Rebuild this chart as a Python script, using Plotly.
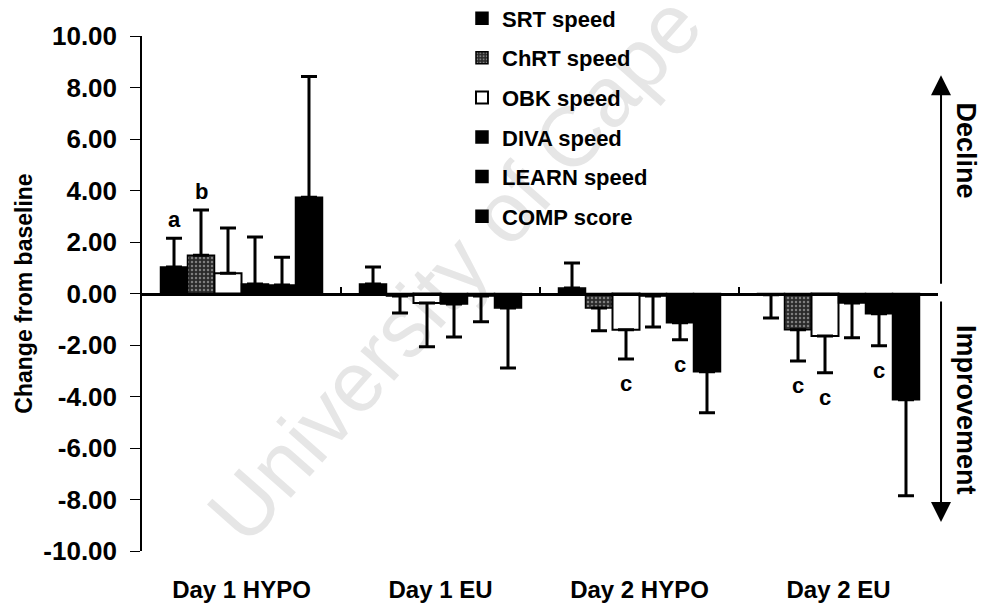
import plotly.graph_objects as go

# Groups along the x axis and the six measures shown in each group
categories = ["Day 1 HYPO", "Day 1 EU", "Day 2 HYPO", "Day 2 EU"]
series_names = ["SRT speed", "ChRT speed", "OBK speed", "DIVA speed", "LEARN speed", "COMP score"]

# Mean change from baseline per group, with the one-sided error (SD)
srt_mean = [1.03, 0.37, 0.21, -0.05]
srt_err = [1.12, 0.66, 0.97, 0.90]
chrt_mean = [1.49, -0.10, -0.56, -1.41]
chrt_err = [1.75, 0.66, 0.89, 1.21]
obk_mean = [0.79, -0.37, -1.41, -1.65]
obk_err = [1.75, 1.70, 1.13, 1.43]
diva_mean = [0.37, -0.41, -0.10, -0.37]
diva_err = [1.82, 1.28, 1.20, 1.35]
learn_mean = [0.33, -0.10, -1.14, -0.79]
learn_err = [1.08, 1.00, 0.66, 1.24]
comp_mean = [3.74, -0.56, -3.04, -4.13]
comp_err = [4.69, 2.33, 1.59, 3.72]

# Significance letters: (letter, group index, measure index)
sig_labels = [("a", 0, 0), ("b", 0, 1), ("c", 2, 2), ("c", 2, 4),
              ("c", 3, 1), ("c", 3, 2), ("c", 3, 4)]

y_ticks = [-10, -8, -6, -4, -2, 0, 2, 4, 6, 8, 10]
y_tick_labels = ["-10.00", "-8.00", "-6.00", "-4.00", "-2.00", "0.00",
                 "2.00", "4.00", "6.00", "8.00", "10.00"]

means = [srt_mean, chrt_mean, obk_mean, diva_mean, learn_mean, comp_mean]
errs = [srt_err, chrt_err, obk_err, diva_err, learn_err, comp_err]

FONT = "Liberation Sans, Arial, sans-serif"
BARGAP = 0.186
N = len(series_names)

styles = [
    dict(color="#000000"),
    dict(color="#2a2a2a", pattern=dict(shape=".", fgcolor="#d2d2d2", size=4, solidity=0.3)),
    dict(color="#ffffff"),
    dict(color="#000000"),
    dict(color="#000000"),
    dict(color="#000000"),
]

fig = go.Figure()
for i, name in enumerate(series_names):
    m = means[i]
    e = errs[i]
    up = [ev if mv >= 0 else 0 for mv, ev in zip(m, e)]
    down = [ev if mv < 0 else 0 for mv, ev in zip(m, e)]
    fig.add_trace(go.Bar(
        name=name,
        x=categories,
        y=m,
        legendgroup=name,
        marker=dict(line=dict(color="#000000", width=2 if i == 2 else 1.5), **styles[i]),
        error_y=dict(type="data", symmetric=False, array=up, arrayminus=down,
                     color="#000000", thickness=3, width=8),
        hoverinfo="skip",
    ))

# Empty trace that carries the bottom axis holding the group names
fig.add_trace(go.Scatter(x=[0, 1, 2, 3], y=[None, None, None, None],
                         xaxis="x2", yaxis="y", mode="markers",
                         showlegend=False, hoverinfo="skip"))

# Significance letters placed just beyond the whisker ends
slot = (1 - BARGAP) / N
for letter, g, s in sig_labels:
    mv = means[s][g]
    ev = errs[s][g]
    xpos = g - (1 - BARGAP) / 2 + slot * (s + 0.5)
    if mv >= 0:
        fig.add_annotation(x=xpos, y=mv + ev, xref="x", yref="y", text=letter,
                           showarrow=False, yanchor="bottom", yshift=4,
                           font=dict(family=FONT, size=22, color="#000000", weight=700))
    else:
        fig.add_annotation(x=xpos, y=mv - ev, xref="x", yref="y", text=letter,
                           showarrow=False, yanchor="top", yshift=-10,
                           font=dict(family=FONT, size=22, color="#000000", weight=700))

# Direction arrows and captions on the right
fig.add_annotation(x=1.0038, y=0.924, xref="paper", yref="paper", text="",
                   showarrow=True, ax=0, ay=210, arrowhead=2, arrowsize=2,
                   arrowwidth=2, arrowcolor="#000000", standoff=0)
fig.add_annotation(x=1.0038, y=0.0563, xref="paper", yref="paper", text="",
                   showarrow=True, ax=0, ay=-222, arrowhead=2, arrowsize=2,
                   arrowwidth=2, arrowcolor="#000000", standoff=0)
fig.add_annotation(x=1.035, y=0.778, xref="paper", yref="paper", text="Decline",
                   showarrow=False, textangle=90, xanchor="center", yanchor="middle",
                   font=dict(family=FONT, size=27, color="#000000", weight=700))
fig.add_annotation(x=1.035, y=0.274, xref="paper", yref="paper", text="Improvement",
                   showarrow=False, textangle=90, xanchor="center", yanchor="middle",
                   font=dict(family=FONT, size=27, color="#000000", weight=700))

# Faint diagonal watermark behind the bars
fig.add_shape(type="line", xref="paper", yref="paper",
              x0=0.191, y0=0.072, x1=0.857, y1=1.237,
              line=dict(color="rgba(0,0,0,0)", width=0), layer="below",
              label=dict(text="University of Cape Town", textposition="middle",
                         font=dict(family=FONT, size=85, color="#e6e6e6")))

fig.update_layout(
    width=984, height=607,
    margin=dict(l=142, r=46, t=36, b=56, autoexpand=False),
    paper_bgcolor="#ffffff", plot_bgcolor="rgba(0,0,0,0)",
    barmode="group", bargap=BARGAP, bargroupgap=0,
    showlegend=True,
    legend=dict(x=0.402, y=1.075, xanchor="left", yanchor="top",
                bgcolor="rgba(0,0,0,0)", tracegroupgap=8,
                font=dict(family=FONT, size=22, color="#000000", weight=700)),
    xaxis=dict(type="category", categoryorder="array", categoryarray=categories,
               range=[-0.5, 3.5], anchor="free", position=0.5, automargin=False,
               showline=True, linecolor="#000000", linewidth=2.5,
               ticks="inside", tickson="boundaries", ticklen=6, tickwidth=1.5,
               tickcolor="#000000", showticklabels=False,
               showgrid=False, zeroline=False),
    xaxis2=dict(overlaying="x", anchor="y", side="bottom", range=[-0.5, 3.5],
                automargin=False,
                tickmode="array", tickvals=[0, 1, 2, 3], ticktext=categories,
                showline=False, ticks="", showgrid=False, zeroline=False,
                ticklabelstandoff=22,
                tickfont=dict(family=FONT, size=24, color="#000000", weight=700)),
    yaxis=dict(range=[-10, 10], tickmode="array", tickvals=y_ticks, automargin=False,
               ticktext=y_tick_labels, ticks="outside", ticklen=10, tickwidth=1.2,
               tickcolor="#000000", showline=True, linecolor="#000000", linewidth=1.5,
               showgrid=False, zeroline=False, ticklabelstandoff=8,
               tickfont=dict(family=FONT, size=26, color="#000000", weight=700),
               title=dict(text="Change from baseline", standoff=4,
                          font=dict(family=FONT, size=23, color="#000000", weight=700))),
)

fig.write_html("out.html")
